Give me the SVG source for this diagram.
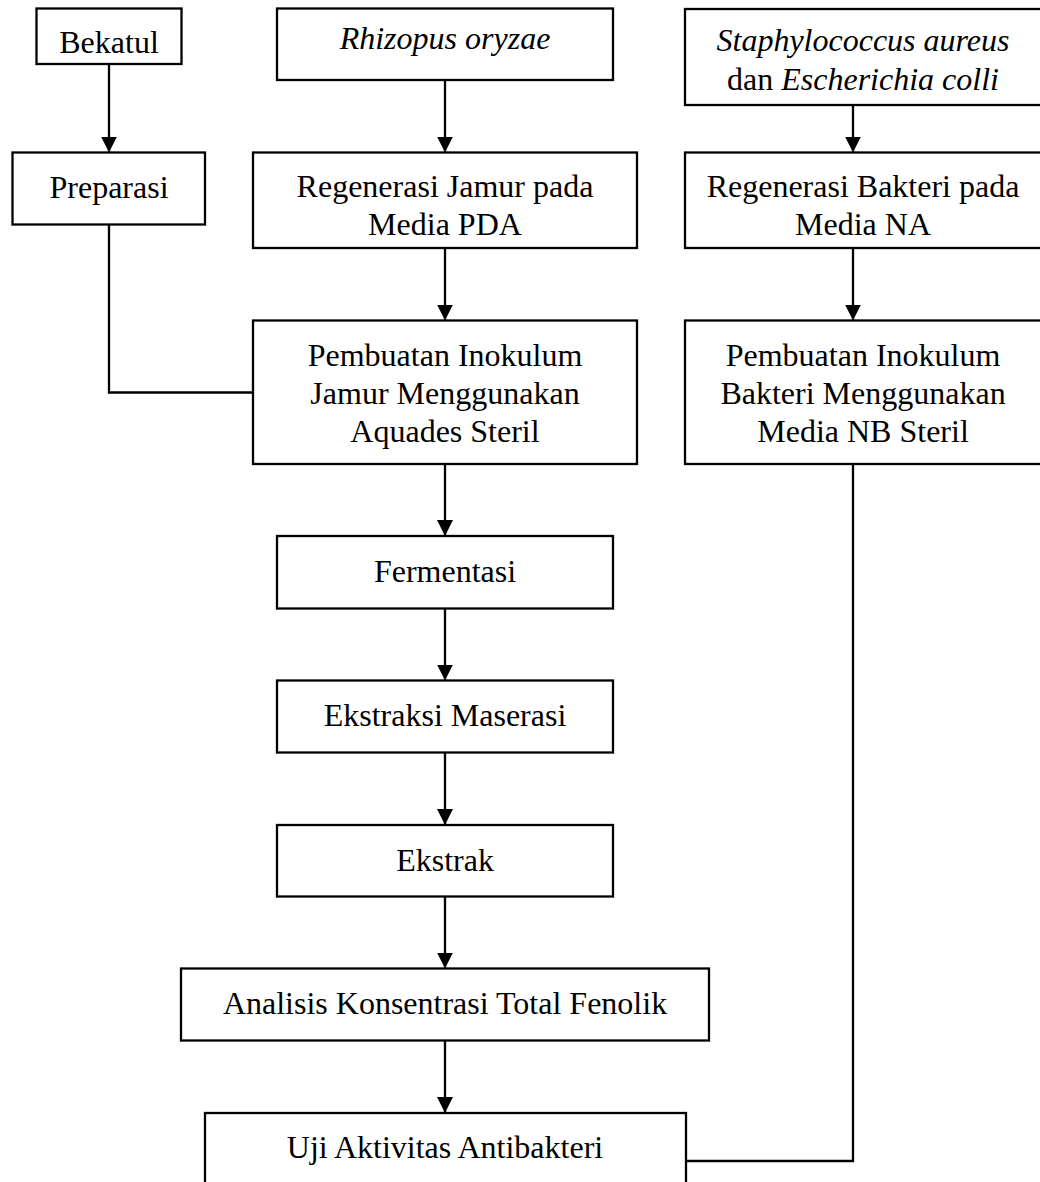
<svg xmlns="http://www.w3.org/2000/svg" width="1040" height="1182" viewBox="0 0 1040 1182">
<style>
  .box { fill: #ffffff; stroke: #000000; stroke-width: 2.3; }
  .t { font-family: "Liberation Serif", "Times New Roman", serif; font-size: 32px; fill: #000000; text-anchor: middle; }
  .i { font-style: italic; }
  .c { fill: none; stroke: #000000; stroke-width: 2.3; }
</style>
<defs>
  <marker id="ah" markerWidth="17" markerHeight="17" refX="16" refY="8" orient="auto" markerUnits="userSpaceOnUse">
    <path d="M0,0 L16,8 L0,16 Z" fill="#000000"/>
  </marker>
</defs>
<rect width="1040" height="1182" fill="#ffffff"/>

<g id="connectors">
  <line class="c" x1="109" y1="64" x2="109" y2="152.5" marker-end="url(#ah)"/>
  <line class="c" x1="445" y1="80" x2="445" y2="152.5" marker-end="url(#ah)"/>
  <line class="c" x1="853" y1="105" x2="853" y2="152.5" marker-end="url(#ah)"/>
  <line class="c" x1="445" y1="248" x2="445" y2="320.5" marker-end="url(#ah)"/>
  <line class="c" x1="853" y1="248" x2="853" y2="320.5" marker-end="url(#ah)"/>
  <polyline class="c" points="109,224.5 109,392.5 253,392.5"/>
  <line class="c" x1="445" y1="464" x2="445" y2="536" marker-end="url(#ah)"/>
  <line class="c" x1="445" y1="608.5" x2="445" y2="680.5" marker-end="url(#ah)"/>
  <line class="c" x1="445" y1="752.5" x2="445" y2="825" marker-end="url(#ah)"/>
  <line class="c" x1="445" y1="896.5" x2="445" y2="968.5" marker-end="url(#ah)"/>
  <line class="c" x1="445" y1="1040.5" x2="445" y2="1113" marker-end="url(#ah)"/>
  <polyline class="c" points="853,464 853,1161 686,1161"/>
</g>

<g id="bekatul">
  <rect class="box" x="36.5" y="8.5" width="145" height="55.5"/>
  <text class="t" x="109" y="53">Bekatul</text>
</g>
<g id="rhizopus">
  <rect class="box" x="277" y="8.5" width="336" height="71.5"/>
  <text class="t i" x="445" y="49">Rhizopus oryzae</text>
</g>
<g id="bakteri">
  <rect class="box" x="685" y="9" width="357" height="96"/>
  <text class="t i" x="863" y="51">Staphylococcus aureus</text>
  <text class="t" x="863" y="90">dan <tspan class="i">Escherichia colli</tspan></text>
</g>
<g id="preparasi">
  <rect class="box" x="12.5" y="152.5" width="192.5" height="72"/>
  <text class="t" x="109" y="198">Preparasi</text>
</g>
<g id="regenerasi-jamur">
  <rect class="box" x="253" y="152.5" width="384" height="95.5"/>
  <text class="t" x="445" y="197">Regenerasi Jamur pada</text>
  <text class="t" x="445" y="235">Media PDA</text>
</g>
<g id="regenerasi-bakteri">
  <rect class="box" x="685" y="152.5" width="357" height="95.5"/>
  <text class="t" x="863" y="197">Regenerasi Bakteri pada</text>
  <text class="t" x="863" y="235">Media NA</text>
</g>
<g id="inokulum-jamur">
  <rect class="box" x="253" y="320.5" width="384" height="143.5"/>
  <text class="t" x="445" y="366">Pembuatan Inokulum</text>
  <text class="t" x="445" y="404">Jamur Menggunakan</text>
  <text class="t" x="445" y="442">Aquades Steril</text>
</g>
<g id="inokulum-bakteri">
  <rect class="box" x="685" y="320.5" width="357" height="143.5"/>
  <text class="t" x="863" y="366">Pembuatan Inokulum</text>
  <text class="t" x="863" y="404">Bakteri Menggunakan</text>
  <text class="t" x="863" y="442">Media NB Steril</text>
</g>
<g id="fermentasi">
  <rect class="box" x="277" y="536" width="336" height="72.5"/>
  <text class="t" x="445" y="582">Fermentasi</text>
</g>
<g id="ekstraksi">
  <rect class="box" x="277" y="680.5" width="336" height="72"/>
  <text class="t" x="445" y="726">Ekstraksi Maserasi</text>
</g>
<g id="ekstrak">
  <rect class="box" x="277" y="825" width="336" height="71.5"/>
  <text class="t" x="445" y="871">Ekstrak</text>
</g>
<g id="analisis">
  <rect class="box" x="181" y="968.5" width="528" height="72"/>
  <text class="t" x="445" y="1014">Analisis Konsentrasi Total Fenolik</text>
</g>
<g id="uji">
  <rect class="box" x="205" y="1113" width="481" height="90"/>
  <text class="t" x="445" y="1158">Uji Aktivitas Antibakteri</text>
</g>
</svg>
